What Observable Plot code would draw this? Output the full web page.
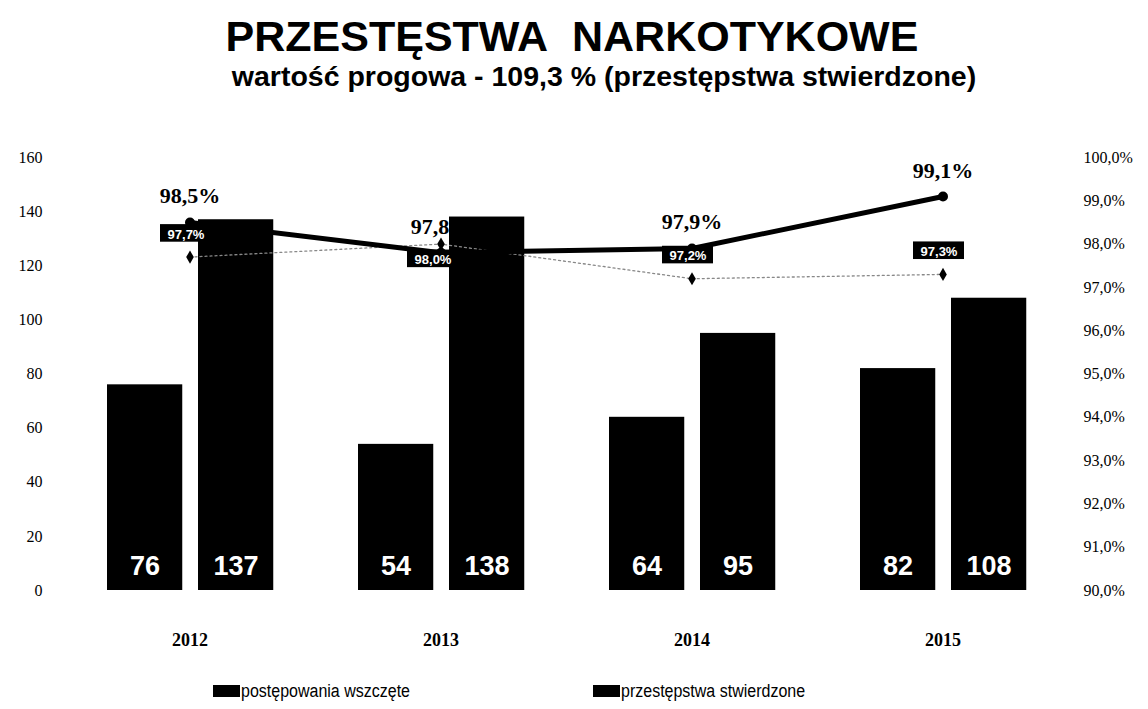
<!DOCTYPE html>
<html>
<head>
<meta charset="utf-8">
<script src="https://cdn.jsdelivr.net/npm/d3@7"></script>
<script src="https://cdn.jsdelivr.net/npm/@observablehq/plot@0.6"></script>
<style>
  html, body { margin: 0; padding: 0; background: #fff; }
  body { width: 1148px; height: 709px; overflow: hidden; position: relative; font-family: "Liberation Sans", Arial, sans-serif; color: #000; }
  #hdr { position: relative; height: 110px; }
  #title { position: absolute; left: 0; width: 1144px; top: 15px; text-align: center; font-size: 43px; line-height: 43px; font-weight: bold; white-space: nowrap; }
  #subtitle { position: absolute; left: 60px; width: 1088px; top: 62px; text-align: center; font-size: 28.5px; line-height: 28px; font-weight: bold; white-space: nowrap; }
  #chart svg { display: block; }
  #legend { position: relative; height: 39px; }
  .item { position: absolute; top: 10px; height: 22px; display: flex; align-items: center; font-family: "Liberation Sans", Arial, sans-serif; font-size: 16px; white-space: nowrap; }
  .item span.t { display: inline-block; transform: scaleY(1.15); }
  .sw { width: 27px; height: 12px; background: #000; margin-right: 1px; }
</style>
</head>
<body>
<div id="hdr">
  <div id="title">PRZESTĘSTWA&nbsp; NARKOTYKOWE</div>
  <div id="subtitle">wartość progowa - 109,3 % (przestępstwa stwierdzone)</div>
</div>
<div id="chart"></div>
<div id="legend">
  <div class="item" style="left:213px"><span class="sw"></span><span class="t">postępowania wszczęte</span></div>
  <div class="item" style="left:593px"><span class="sw"></span><span class="t">przestępstwa stwierdzone</span></div>
</div>
<script>
const years = ["2012", "2013", "2014", "2015"];
const wszczete = [76, 54, 64, 82];
const stwierdzone = [137, 138, 95, 108];
const pctSolid = [98.5, 97.8, 97.9, 99.1];
const pctThin = [97.7, 98.0, 97.2, 97.3];
const leftTicks = [0, 20, 40, 60, 80, 100, 120, 140, 160];
const rightTicks = [90, 91, 92, 93, 94, 95, 96, 97, 98, 99, 100];

const fmt = v => v.toFixed(1).replace(".", ",") + "%";
const toY = v => (v - 90) * 16;

const bars1 = years.map((year, i) => ({year, value: wszczete[i]}));
const bars2 = years.map((year, i) => ({year, value: stwierdzone[i]}));
const solid = years.map((year, i) => ({year, v: pctSolid[i], y: toY(pctSolid[i])}));
const thin = years.map((year, i) => ({year, v: pctThin[i], y: toY(pctThin[i])}));
const thinAbove = thin.filter(d => d.year !== "2013");
const thinBelow = thin.filter(d => d.year === "2013");

const serif = "'Liberation Serif', 'Times New Roman', serif";
const sans = "'Liberation Sans', Arial, sans-serif";

const chart = Plot.plot({
  width: 1148,
  height: 560,
  marginTop: 47,
  marginBottom: 80,
  marginLeft: 62,
  marginRight: 79,
  x: {domain: years, padding: 0, axis: null},
  y: {domain: [0, 160], axis: null},
  style: {fontFamily: serif, color: "#000", background: "transparent", overflow: "visible"},
  marks: [
    Plot.axisY(leftTicks, {anchor: "left", tickSize: 0, tickPadding: 20, fontSize: 16, label: null}),
    Plot.axisY(rightTicks.map(toY), {anchor: "right", tickSize: 0, tickPadding: 14, fontSize: 16, label: null, tickFormat: v => fmt(v / 16 + 90)}),
    Plot.axisX({tickSize: 0, tickPadding: 43, fontSize: 18, fontWeight: "bold", label: null}),
    Plot.text(solid, {x: "year", y: "y", text: d => fmt(d.v), dy: -26, fontSize: 22, fontWeight: "bold", fontFamily: serif}),
    Plot.barY(bars1, {x: "year", y: "value", fill: "#000", insetLeft: 43, insetRight: 132.75}),
    Plot.barY(bars2, {x: "year", y: "value", fill: "#000", insetLeft: 134, insetRight: 41.75}),
    Plot.line(thin, {x: "year", y: "y", stroke: "#888", strokeWidth: 1.3, strokeDasharray: "2,3"}),
    Plot.dot(thin, {x: "year", y: "y", symbol: "diamond", r: 4, fill: "#000"}),
    Plot.line(solid, {x: "year", y: "y", stroke: "#000", strokeWidth: 5}),
    Plot.dot(solid, {x: "year", y: "y", r: 5, fill: "#000"}),
    Plot.barY(thinAbove, {x: "year", y1: d => d.y + 5.5, y2: d => d.y + 12, fill: "#000", insetLeft: 100, insetRight: 100, dx: -4}),
    Plot.text(thinAbove, {x: "year", y: d => d.y + 8.75, text: d => fmt(d.v), dx: -4, dy: 1, fill: "#fff", fontSize: 13, fontWeight: "bold", fontFamily: sans}),
    Plot.barY(thinBelow, {x: "year", y1: d => d.y - 2.2, y2: d => d.y - 8.7, fill: "#000", insetLeft: 100, insetRight: 100, dx: -8}),
    Plot.text(thinBelow, {x: "year", y: d => d.y - 5.45, text: d => fmt(d.v), dx: -8, dy: 1, fill: "#fff", fontSize: 13, fontWeight: "bold", fontFamily: sans}),
    Plot.text(bars1, {x: "year", y: d => 0, text: d => String(d.value), dx: -45, dy: -24, fill: "#fff", fontSize: 27, fontWeight: "bold", fontFamily: sans}),
    Plot.text(bars2, {x: "year", y: d => 0, text: d => String(d.value), dx: 46, dy: -24, fill: "#fff", fontSize: 27, fontWeight: "bold", fontFamily: sans})
  ]
});
document.getElementById("chart").appendChild(chart);
</script>
</body>
</html>
